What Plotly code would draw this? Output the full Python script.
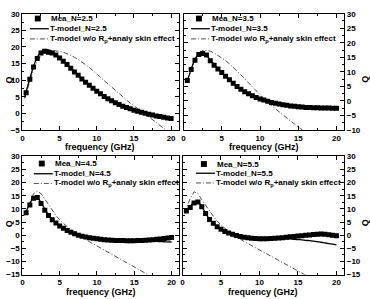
import plotly.graph_objects as go

# ---------------- data ----------------
freq_mea = [0.5, 1.0, 1.5, 2.0, 2.5, 3.0, 3.5, 4.0, 4.5, 5.0,
            5.5, 6.0, 6.5, 7.0, 7.5, 8.0, 8.5, 9.0, 9.5, 10.0,
            10.5, 11.0, 11.5, 12.0, 12.5, 13.0, 13.5, 14.0, 14.5, 15.0,
            15.5, 16.0, 16.5, 17.0, 17.5, 18.0, 18.5, 19.0, 19.5, 20.0]
freq_model = [0.3] + freq_mea

# N = 2.5
mea_25 = [6.2, 10.3, 14.0, 16.5, 18.2, 18.7, 18.4, 18.2, 17.6, 16.7,
          15.7, 14.7, 13.6, 12.5, 11.5, 10.4, 9.4, 8.5, 7.6, 6.7,
          5.9, 5.1, 4.4, 3.8, 3.2, 2.7, 2.2, 1.8, 1.4, 1.0,
          0.7, 0.35, 0.05, -0.25, -0.5, -0.75, -0.95, -1.15, -1.35, -1.5]
tmodel_25 = [4.8, 6.5, 10.5, 14.2, 16.9, 18.5, 19.2, 19.1, 18.6, 17.8, 16.9,
             15.9, 14.9, 13.8, 12.7, 11.6, 10.5, 9.5, 8.5, 7.6, 6.7,
             5.9, 5.1, 4.4, 3.8, 3.2, 2.7, 2.2, 1.8, 1.4, 1.0,
             0.7, 0.35, 0.05, -0.25, -0.5, -0.75, -0.95, -1.15, -1.35, -1.5]
skin_25 = [4.5, 6.0, 9.8, 13.3, 15.8, 17.3, 18.2, 18.7, 18.9, 18.9, 18.7,
           18.4, 18.0, 17.5, 16.9, 16.2, 15.5, 14.7, 13.8, 12.9, 11.9,
           10.9, 9.9, 8.9, 7.9, 6.9, 5.9, 4.9, 4.0, 3.1, 2.3,
           1.5, 0.7, -0.1, -0.9, -1.8, -2.7, -3.6, -4.5, -5.4, -6.3]

# N = 3.5
mea_35 = [7.0, 10.8, 14.0, 16.0, 16.3, 15.8, 13.8, 12.3, 11.0, 9.8,
          8.5, 7.3, 6.1, 5.0, 4.0, 3.2, 2.5, 1.8, 1.2, 0.7,
          0.3, -0.1, -0.5, -0.8, -1.05, -1.3, -1.5, -1.7, -1.85, -2.0,
          -2.1, -2.2, -2.25, -2.3, -2.35, -2.4, -2.45, -2.45, -2.5, -2.5]
tmodel_35 = [8.0, 7.2, 11.0, 14.3, 16.2, 16.5, 15.7, 14.2, 12.6, 11.1, 9.8,
             8.5, 7.3, 6.1, 5.0, 4.0, 3.2, 2.5, 1.8, 1.2, 0.7,
             0.3, -0.1, -0.5, -0.8, -1.05, -1.3, -1.5, -1.7, -1.85, -2.0,
             -2.1, -2.2, -2.25, -2.3, -2.35, -2.4, -2.45, -2.45, -2.5, -2.5]
skin_35 = [7.5, 7.6, 10.5, 14.0, 16.3, 17.3, 17.4, 17.1, 16.5, 15.7, 14.9,
           13.9, 12.8, 11.6, 10.3, 9.0, 7.6, 6.2, 4.8, 3.4, 2.0,
           0.7, -0.5, -1.6, -2.7, -3.8, -4.9, -5.9, -6.9, -7.9, -8.9,
           -9.9, -10.9, -11.9, -12.9, -13.9, -14.9, -15.9, -16.9, -17.9, -18.9]

# N = 4.5
mea_45 = [8.5, 11.5, 14.0, 14.3, 12.0, 9.5, 7.5, 5.9, 4.6, 3.5,
          2.6, 1.8, 1.1, 0.5, 0.0, -0.4, -0.7, -1.0, -1.2, -1.4,
          -1.6, -1.7, -1.8, -1.9, -2.0, -2.0, -2.05, -2.1, -2.1, -2.1,
          -2.05, -2.0, -1.95, -1.85, -1.75, -1.6, -1.45, -1.3, -1.1, -0.9]
tmodel_45 = [8.0, 9.0, 12.0, 14.3, 14.4, 12.4, 9.9, 7.8, 6.1, 4.7, 3.6,
             2.6, 1.8, 1.1, 0.5, 0.0, -0.4, -0.7, -1.0, -1.2, -1.4,
             -1.6, -1.7, -1.8, -1.9, -2.0, -2.05, -2.1, -2.15, -2.2, -2.2,
             -2.25, -2.25, -2.3, -2.3, -2.35, -2.4, -2.45, -2.5, -2.55, -2.6]
skin_45 = [7.5, 8.8, 12.5, 15.8, 16.7, 15.8, 13.8, 11.5, 9.3, 7.4, 5.8,
           4.4, 3.2, 2.1, 1.1, 0.1, -0.8, -1.7, -2.5, -3.3, -4.1,
           -4.9, -5.7, -6.5, -7.3, -8.1, -8.9, -9.7, -10.5, -11.3, -12.1,
           -12.9, -13.7, -14.5, -15.3, -16.1, -16.9, -17.7, -18.5, -19.3, -20.1]

# N = 5.5
mea_55 = [9.2, 10.5, 12.2, 12.6, 10.8, 8.2, 6.0, 4.5, 3.2, 2.2,
          1.4, 0.8, 0.3, -0.1, -0.5, -0.8, -1.0, -1.2, -1.3, -1.35,
          -1.4, -1.35, -1.3, -1.2, -1.1, -0.95, -0.8, -0.65, -0.5, -0.35,
          -0.2, -0.05, 0.1, 0.25, 0.35, 0.4, 0.35, 0.2, 0.0, -0.2]
tmodel_55 = [8.5, 9.6, 11.0, 12.7, 12.7, 10.9, 8.3, 6.1, 4.6, 3.3, 2.3,
             1.5, 0.8, 0.3, -0.1, -0.5, -0.8, -1.0, -1.2, -1.3, -1.35,
             -1.4, -1.4, -1.35, -1.35, -1.35, -1.35, -1.4, -1.45, -1.55, -1.65,
             -1.8, -1.95, -2.1, -2.3, -2.5, -2.7, -2.95, -3.2, -3.45, -3.7]
skin_55 = [8.5, 10.0, 14.0, 16.5, 15.8, 13.5, 11.3, 9.2, 7.2, 5.3, 3.8,
           2.6, 1.5, 0.4, -0.6, -1.5, -2.4, -3.2, -4.0, -4.8, -5.6,
           -6.4, -7.2, -8.0, -8.8, -9.6, -10.4, -11.2, -12.0, -12.8, -13.6,
           -14.4, -15.2, -16.0, -16.8, -17.6, -18.4, -19.2, -20.0, -20.8, -21.6]

n_labels = ["2.5", "3.5", "4.5", "5.5"]
y_ranges = [[-5, 30], [-10, 30], [-15, 30], [-15, 30]]
x_tickvals = [0, 5, 10, 15, 20]

# ---------------- layout helpers ----------------
W, H = 370, 299
def px(x):
    return x / W
def py(y):
    return 1 - y / H

# panel frames in pixels: (left, right, top, bottom)
frames = [(20.5, 177.5, 10, 130), (182.5, 344, 10, 130),
          (20.5, 178, 157, 279), (181.5, 344, 157, 279)]

FONT = "Liberation Sans, Arial, sans-serif"
series = [(mea_25, tmodel_25, skin_25), (mea_35, tmodel_35, skin_35),
          (mea_45, tmodel_45, skin_45), (mea_55, tmodel_55, skin_55)]

fig = go.Figure()
layout = dict(width=W, height=H, margin=dict(l=0, r=0, t=0, b=0),
              paper_bgcolor="white", plot_bgcolor="white", showlegend=False)
shapes = []
annotations = []

for i, (mea, tm, sk) in enumerate(series):
    k = "" if i == 0 else str(i + 1)
    xa, ya = "x" + k, "y" + k
    fig.add_trace(go.Scatter(x=freq_model, y=sk, mode="lines", xaxis=xa, yaxis=ya,
                             line=dict(color="#505050", width=1, dash="5px,2px,1px,2px")))
    fig.add_trace(go.Scatter(x=freq_model, y=tm, mode="lines", xaxis=xa, yaxis=ya,
                             line=dict(color="black", width=1.3, shape="spline", smoothing=0.6)))
    fig.add_trace(go.Scatter(x=freq_mea, y=mea, mode="markers", xaxis=xa, yaxis=ya,
                             marker=dict(symbol="square", size=5, color="black")))
    l, r, t, b = frames[i]
    axis_common = dict(showline=True, linecolor="black", linewidth=1, mirror="ticks",
                       ticks="inside", ticklen=4, tickwidth=1, tickcolor="black",
                       showgrid=False, zeroline=False,
                       tickfont=dict(family=FONT, size=8, color="black", weight="bold"),
                       minor=dict(ticks="inside", ticklen=2, tickcolor="black", dtick=2.5,
                                  showgrid=False))
    layout["xaxis" + k] = dict(axis_common, domain=[px(l), px(r)], range=[0, 21],
                               tickvals=x_tickvals, anchor=ya)
    side = "left" if i % 2 == 0 else "right"
    layout["yaxis" + k] = dict(axis_common, domain=[py(b), py(t)], range=y_ranges[i],
                               dtick=5, tick0=0, anchor=xa, side=side)
    # axis titles
    annotations.append(dict(text="frequency (GHz)", x=px((l + r) / 2), y=py(b + 17.5),
                            xref="paper", yref="paper", showarrow=False,
                            xanchor="center", yanchor="middle",
                            font=dict(family=FONT, size=9, color="black", weight="bold")))
    qx = 7 if side == "left" else 365
    annotations.append(dict(text="Q", x=px(qx), y=py((t + b) / 2 + 8), xref="paper",
                            yref="paper", showarrow=False, textangle=-90,
                            xanchor="center", yanchor="middle",
                            font=dict(family=FONT, size=9, color="black", weight="bold")))

# legends (drawn per panel)
legend_pos = [(28, 15, 25.5, 36), (190, 15, 25.5, 36), (32, 164.5, 175, 185),
              (195, 165, 174.5, 184.5)]
for i, (lx, r1, r2, r3) in enumerate(legend_pos):
    n = n_labels[i]
    shapes.append(dict(type="rect", xref="paper", yref="paper",
                       x0=px(lx + 5), x1=px(lx + 11), y0=py(r1 + 3), y1=py(r1 - 3),
                       fillcolor="black", line=dict(width=0)))
    shapes.append(dict(type="line", xref="paper", yref="paper",
                       x0=px(lx), x1=px(lx + 19), y0=py(r2), y1=py(r2),
                       line=dict(color="black", width=1.3)))
    shapes.append(dict(type="line", xref="paper", yref="paper",
                       x0=px(lx), x1=px(lx + 19), y0=py(r3), y1=py(r3),
                       line=dict(color="#505050", width=1, dash="5px,2px,1px,2px")))
    texts = [("Mea_N=" + n, lx + 19, r1), ("T-model_N=" + n, lx + 18, r2),
             ("T-model w/o R<sub>p</sub>+analy skin effect", lx + 18, r3)]
    for txt, tx, ty in texts:
        annotations.append(dict(text=txt, x=px(tx), y=py(ty), xref="paper", yref="paper",
                                showarrow=False, xanchor="left", yanchor="middle",
                                font=dict(family=FONT, size=8, color="black", weight="bold")))

layout["shapes"] = shapes
layout["annotations"] = annotations
fig.update_layout(**layout)
fig.write_html("out.html")
